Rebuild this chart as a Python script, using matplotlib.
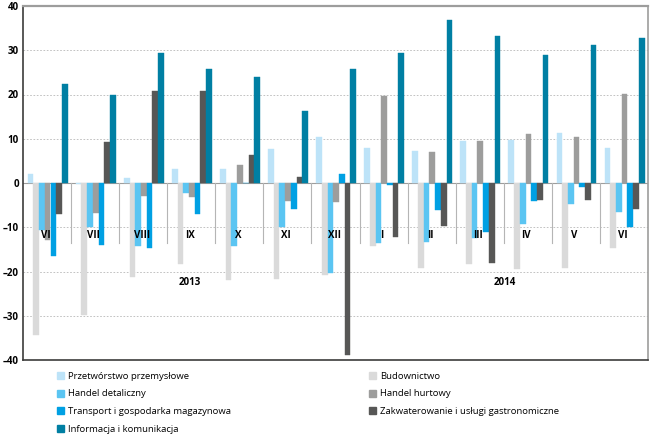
import matplotlib.pyplot as plt
from matplotlib.patches import Patch
import numpy as np

plt.rcParams['font.family'] = ['Open Sans', 'DejaVu Sans']

# data (percent)
months = ["VI", "VII", "VIII", "IX", "X", "XI", "XII", "I", "II", "III", "IV", "V", "VI"]
series_names = [
    "Przetwórstwo przemysłowe",
    "Budownictwo",
    "Handel detaliczny",
    "Handel hurtowy",
    "Transport i gospodarka magazynowa",
    "Zakwaterowanie i usługi gastronomiczne",
    "Informacja i komunikacja",
]
przetworstwo = [2.0, -0.3, 1.2, 3.1, 3.2, 7.7, 10.3, 8.0, 7.2, 9.5, 9.7, 11.3, 7.9]
budownictwo = [-34.4, -29.9, -21.2, -18.4, -21.9, -21.6, -20.7, -14.3, -19.1, -18.2, -19.5, -19.2, -14.7]
handel_det = [-10.6, -9.9, -14.3, -2.2, -14.3, -9.9, -20.4, -13.6, -13.3, -12.5, -9.3, -4.7, -6.6]
handel_hurt = [-12.9, -6.7, -2.9, -3.2, 4.1, -4.1, -4.2, 19.7, 7.1, 9.6, 11.1, 10.4, 20.1]
transport = [-16.5, -13.9, -14.6, -7.0, 0.0, -5.9, 2.1, -0.4, -6.0, -11.1, -4.1, -0.8, -9.9]
zakwaterowanie = [-6.9, 9.2, 20.7, 20.7, 6.3, 1.3, -38.8, -12.1, -9.8, -18.0, -3.9, -3.9, -5.9]
informacja = [22.3, 19.8, 29.3, 25.7, 23.9, 16.3, 25.7, 29.3, 36.9, 33.2, 28.9, 31.1, 32.7]
years = ["2013", "2014"]
yticks = [-40, -30, -20, -10, 0, 10, 20, 30, 40]

colors = ["#bde3f8", "#dadada", "#5bc5f2", "#9d9d9c", "#00a0e3", "#575756", "#007fa3"]
all_series = [przetworstwo, budownictwo, handel_det, handel_hurt, transport, zakwaterowanie, informacja]

fig = plt.figure(figsize=(6.5, 4.34), dpi=100)
ax = fig.add_axes([23 / 650, 1 - 360 / 434, 625 / 650, 354 / 434])

n = len(months)
x = np.arange(n)
w = 0.1185
start = 0.098
for i, (vals, col) in enumerate(zip(all_series, colors)):
    ax.bar(x + start + (i + 0.5) * w, vals, width=w, color=col, zorder=3,
           edgecolor=col, linewidth=0.3)

ax.set_xlim(0, n)
ax.set_ylim(-40, 40)
ax.set_yticks(yticks)
ax.set_yticklabels([str(t).replace("-", "\u2013") for t in yticks], fontsize=7, fontweight="bold")
ax.tick_params(axis="y", length=0, pad=3)
ax.set_xticks([])

for t in [-30, -20, -10, 10, 20, 30]:
    ax.axhline(t, color="#b8b8b8", linestyle=(0, (2, 2)), linewidth=0.6, zorder=1)
ax.axhline(0, color="#9d9d9c", linewidth=0.8, zorder=2)

# group separators below zero
for k in range(1, n):
    ax.plot([k, k], [0, -13.6], color="#b5b5b5", linewidth=0.8, zorder=2)

for k, m in enumerate(months):
    ax.text(k + 0.47, -11.9, m, ha="center", va="center", fontsize=7, fontweight="bold", zorder=4)

ax.text(3.47, -22.5, years[0], ha="center", va="center", fontsize=7, fontweight="bold")
ax.text(10.02, -22.5, years[1], ha="center", va="center", fontsize=7, fontweight="bold")

for side in ["left", "bottom"]:
    ax.spines[side].set_color("#3c3c3b")
    ax.spines[side].set_linewidth(1.2)
ax.spines["top"].set_color("#9d9d9c")
ax.spines["top"].set_linewidth(1.6)
ax.spines["right"].set_color("#9d9d9c")
ax.spines["right"].set_linewidth(1.2)

handles = [Patch(facecolor=c, edgecolor=c) for c in colors]
leg_kw = dict(frameon=False, fontsize=6.8, handlelength=0.7, handleheight=0.7,
              handletextpad=0.5, labelspacing=0.9, borderpad=0, borderaxespad=0,
              loc="upper left")
left_idx = [0, 2, 4, 6]
right_idx = [1, 3, 5]
fig.legend([handles[i] for i in left_idx], [series_names[i] for i in left_idx],
           bbox_to_anchor=(57 / 650, 1 - 372 / 434), **leg_kw)
fig.legend([handles[i] for i in right_idx], [series_names[i] for i in right_idx],
           bbox_to_anchor=(369 / 650, 1 - 372 / 434), **leg_kw)

fig.savefig("out.png", dpi=100)
